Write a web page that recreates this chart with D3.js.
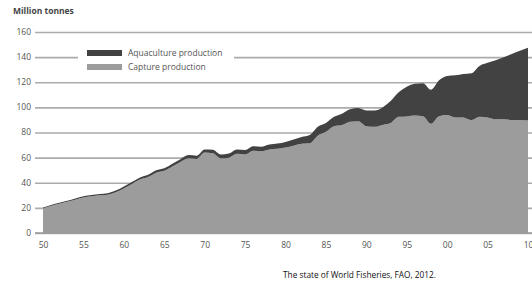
<!DOCTYPE html>
<html>
<head>
<meta charset="utf-8">
<script src="https://cdn.jsdelivr.net/npm/d3@7.9.0/dist/d3.min.js"></script>
<style>
  body { margin: 0; background: #fff; }
  svg { display: block; font-family: "Open Sans", sans-serif; }
</style>
</head>
<body>
<svg id="chart" width="532" height="286"></svg>
<script>
// years 1950..2010
const years = d3.range(1950, 2011);

// million tonnes
const capture = [
  19.8, 21.5, 23.3, 24.8, 26.5, 28.3, 29.3, 30.0, 30.5, 32.5,
  35.5, 39.0, 42.5, 44.5, 48.0, 49.5, 53.0, 56.5, 59.5, 59.0,
  64.0, 63.5, 59.5, 60.0, 63.0, 62.5, 65.5, 65.0, 66.5, 67.0,
  68.0, 69.5, 71.0, 71.5, 77.5, 80.5, 85.0, 86.0, 88.5, 89.0,
  85.0, 84.5, 86.0, 87.5, 92.5, 92.8, 93.5, 93.0, 87.0, 93.0,
  94.0, 92.0, 92.0, 89.8, 92.5, 92.0, 90.5, 90.5, 90.0, 90.0,
  89.5
];
const aquaculture = [
  0.5, 0.7, 0.7, 0.8, 0.9, 0.9, 1.0, 1.1, 1.2, 1.3,
  1.5, 1.6, 1.7, 1.8, 2.0, 2.1, 2.2, 2.3, 2.5, 2.5,
  2.5, 2.8, 3.0, 3.2, 3.4, 3.5, 3.5, 3.7, 3.9, 4.2,
  4.5, 5.0, 5.5, 6.5, 7.0, 7.0, 7.5, 9.0, 10.0, 10.5,
  12.5, 13.0, 14.0, 17.5, 19.5, 23.7, 25.3, 26.3, 27.0, 28.5,
  31.0, 33.5, 34.5, 37.4, 40.5, 43.5, 47.0, 49.5, 52.5, 55.0,
  58.0
];

const yTicks = [0, 20, 40, 60, 80, 100, 120, 140, 160];
const xTicks = [1950, 1955, 1960, 1965, 1970, 1975, 1980, 1985, 1990, 1995, 2000, 2005, 2010];
const xTickLabels = ["50", "55", "60", "65", "70", "75", "80", "85", "90", "95", "00", "05", "10"];

const seriesNames = ["Aquaculture production", "Capture production"];
const colors = { capture: "#9c9c9c", aquaculture: "#424242" };

const svg = d3.select("#chart");

const x = d3.scaleLinear().domain([1950, 2010]).range([43, 528]);
const y = d3.scaleLinear().domain([0, 160]).range([233, 32]);

const data = years.map((yr, i) => ({ year: yr, capture: capture[i], aquaculture: aquaculture[i] }));
const stacked = d3.stack().keys(["capture", "aquaculture"])(data);

// gridlines
const grid = svg.append("g")
  .attr("transform", "translate(35,0)")
  .call(d3.axisLeft(y).tickValues(yTicks).tickSize(-497).tickFormat(""));
grid.select(".domain").remove();
grid.selectAll("line").attr("stroke", "#ababab").attr("stroke-width", 1.6);

// y labels
svg.append("g").selectAll("text")
  .data(yTicks)
  .enter()
  .append("text")
  .attr("x", 31)
  .attr("y", d => y(d))
  .attr("dy", "0.35em")
  .attr("text-anchor", "end")
  .attr("font-size", 8.5)
  .attr("fill", "#555")
  .text(d => d);

// areas
const area = d3.area()
  .x((d, i) => x(years[i]))
  .y0(d => y(d[0]))
  .y1(d => y(d[1]))
  .curve(d3.curveMonotoneX);

svg.append("g").selectAll("path")
  .data(stacked)
  .enter()
  .append("path")
  .attr("d", area)
  .attr("fill", d => colors[d.key]);

// x baseline
svg.append("line")
  .attr("x1", 35).attr("x2", 532)
  .attr("y1", y(0)).attr("y2", y(0))
  .attr("stroke", "#9a9a9a")
  .attr("stroke-width", 1.6);

// x labels
const xAxis = svg.append("g")
  .attr("transform", `translate(0,${y(0) + 6})`)
  .call(d3.axisBottom(x).tickValues(xTicks).tickSize(0).tickFormat((d, i) => xTickLabels[i]));
xAxis.select(".domain").remove();
xAxis.selectAll("text")
  .attr("font-size", 8.5)
  .attr("fill", "#555")
  .attr("font-family", "Open Sans, sans-serif");

// legend
const legend = svg.append("g");
legend.append("rect")
  .attr("x", 78).attr("y", 46).attr("width", 156).attr("height", 28)
  .attr("fill", "#fff");
const legendItems = [
  { name: seriesNames[0], color: colors.aquaculture, y: 53 },
  { name: seriesNames[1], color: colors.capture, y: 67 }
];
legend.selectAll("rect.sw")
  .data(legendItems)
  .enter()
  .append("rect")
  .attr("class", "sw")
  .attr("x", 87).attr("y", d => d.y - 3)
  .attr("width", 35).attr("height", 6)
  .attr("fill", d => d.color);
legend.selectAll("text")
  .data(legendItems)
  .enter()
  .append("text")
  .attr("x", 128).attr("y", d => d.y)
  .attr("dy", "0.35em")
  .attr("font-size", 8.5)
  .attr("fill", "#555")
  .text(d => d.name);

// titles
svg.append("text")
  .attr("x", 13).attr("y", 14)
  .attr("font-size", 8.5)
  .attr("font-weight", "bold")
  .attr("fill", "#444")
  .text("Million tonnes");

svg.append("text")
  .attr("x", 283).attr("y", 278)
  .attr("font-size", 8.3)
  .attr("fill", "#111")
  .text("The state of World Fisheries, FAO, 2012.");
</script>
</body>
</html>
